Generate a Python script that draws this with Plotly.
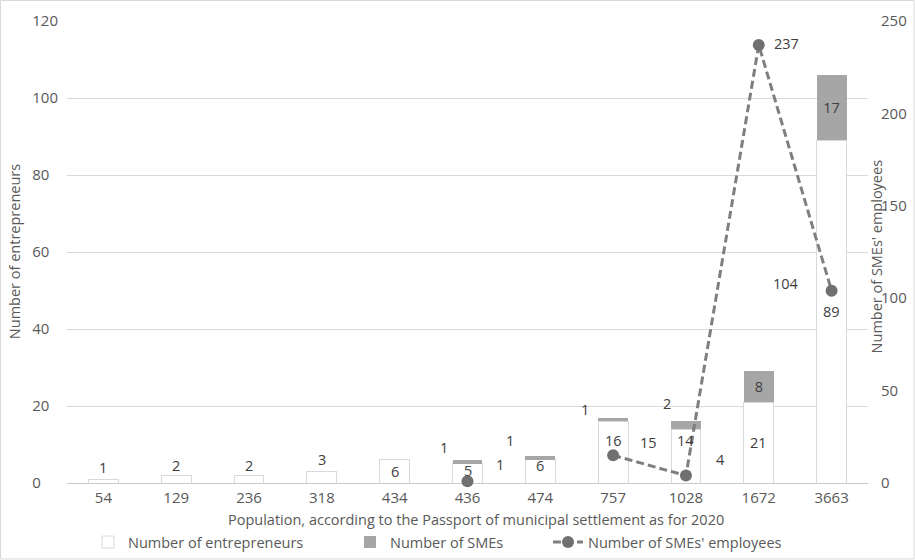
import plotly.graph_objects as go

categories = ["54", "129", "236", "318", "434", "436", "474", "757", "1028", "1672", "3663"]
entrepreneurs = [1, 2, 2, 3, 6, 5, 6, 16, 14, 21, 89]
smes = [0, 0, 0, 0, 0, 1, 1, 1, 2, 8, 17]
employees = [None, None, None, None, None, 1, None, 15, 4, 237, 104]

# label offsets (pixels) as placed in the original
ent_dy = [12, 10, 10, 12, 0, 3, 6, 12, 16, 0, 0]
emp_dx = [0, 0, 0, 0, 0, 32, 0, 35, 35, 28, -46]
emp_dy = [0, 0, 0, 0, 0, 17, 0, 13, 16, 2, 7]
sme_dx = [0, 0, 0, 0, 0, -24, -30, -28, -19, 0, 0]
sme_dy = [0, 0, 0, 0, 0, 12, 16, 8, 18, 0, 0]

FONT = "Open Sans"
TXT = "#595959"
LBL = "#404040"
FS = 14.5

sme_text = [str(v) if v >= 5 else "" for v in smes]

fig = go.Figure()
fig.add_trace(go.Bar(
    x=categories, y=entrepreneurs, name="Number of entrepreneurs", legend="legend",
    marker=dict(color="white", line=dict(color="#d9d9d9", width=1)),
    cliponaxis=False,
))
fig.add_trace(go.Bar(
    x=categories, y=smes, name="Number of SMEs", legend="legend2",
    marker=dict(color="#a6a6a6", line=dict(width=0)),
    text=sme_text, textposition="inside", textangle=0,
    insidetextanchor="middle", constraintext="none",
    textfont=dict(family=FONT, size=FS, color=LBL),
    cliponaxis=False,
))
fig.add_trace(go.Scatter(
    x=categories, y=employees, name="Number of SMEs' employees", yaxis="y2", legend="legend3",
    mode="lines+markers",
    line=dict(color="#7f7f7f", width=3, dash="8px,4px"),
    marker=dict(color="#707070", size=12),
    connectgaps=False, cliponaxis=False,
))

annotations = []
# entrepreneurs labels: centred in the bar, or above it for very short bars
for i, (e, dy) in enumerate(zip(entrepreneurs, ent_dy)):
    yv = e / 2 if e >= 5 else e
    annotations.append(dict(x=i, y=yv, xref="x", yref="y", text=str(e), showarrow=False,
                            yshift=dy, xanchor="center", yanchor="middle",
                            font=dict(family=FONT, size=FS, color=LBL)))
# small SME labels, placed up-left of the bar top (x given as category index)
for i, (e, s, dx, dy) in enumerate(zip(entrepreneurs, smes, sme_dx, sme_dy)):
    if 0 < s < 5:
        annotations.append(dict(x=i, y=e + s, xref="x", yref="y", text=str(s), showarrow=False,
                                xshift=dx, yshift=dy, xanchor="center", yanchor="middle",
                                font=dict(family=FONT, size=FS, color=LBL)))
# employees labels
for i, (v, dx, dy) in enumerate(zip(employees, emp_dx, emp_dy)):
    if v is not None:
        annotations.append(dict(x=i, y=v, xref="x", yref="y2", text=str(v), showarrow=False,
                                xshift=dx, yshift=dy, xanchor="center", yanchor="middle",
                                font=dict(family=FONT, size=FS, color=LBL)))
annotations += [
    dict(text="Number of SMEs' employees", xref="paper", yref="paper",
         x=1.011, y=0.49, textangle=-90, showarrow=False, xanchor="center", yanchor="middle",
         font=dict(family=FONT, size=FS, color=TXT)),
    dict(text="Number of entrepreneurs", xref="paper", yref="paper",
         x=-0.066, y=0.5, textangle=-90, showarrow=False, xanchor="center", yanchor="middle",
         font=dict(family=FONT, size=FS, color=TXT)),
    dict(text="Population, according to the Passport of municipal settlement as for 2020",
         xref="paper", yref="paper", x=0.511, y=-0.080, showarrow=False,
         xanchor="center", yanchor="middle",
         font=dict(family=FONT, size=FS, color=TXT)),
]

left_vals = list(range(0, 121, 20))
left_text = [str(v) + "\u2007" * (3 - len(str(v))) for v in left_vals]

leg_common = dict(orientation="h", xanchor="left", yanchor="middle", y=-0.128,
                  font=dict(family=FONT, size=FS, color=TXT), itemwidth=30,
                  bgcolor="rgba(0,0,0,0)")

fig.update_layout(
    width=915, height=560,
    margin=dict(l=67, r=47, t=21, b=77, autoexpand=False),
    paper_bgcolor="white", plot_bgcolor="white",
    barmode="stack", bargap=0.59,
    font=dict(family=FONT, size=FS, color=TXT),
    showlegend=True,
    legend=dict(x=(88 - 67) / 801, **leg_common),
    legend2=dict(x=(350 - 67) / 801, **leg_common),
    legend3=dict(x=(548 - 67) / 801, **leg_common),
    xaxis=dict(type="category", showgrid=False, ticks="", showline=False,
               range=[-0.5, len(categories) - 0.5], ticklabelstandoff=4,
               tickfont=dict(family=FONT, size=15, color=TXT)),
    yaxis=dict(range=[0, 120], tickvals=left_vals, ticktext=left_text,
               showgrid=True, gridcolor="#d9d9d9",
               zeroline=True, zerolinecolor="#c8c8c8", zerolinewidth=1,
               tickfont=dict(family=FONT, size=15, color=TXT), ticks="", ticklabelstandoff=8),
    yaxis2=dict(range=[0, 250], dtick=50, overlaying="y", side="right", showgrid=False,
                zeroline=False, ticks="", tickfont=dict(family=FONT, size=15, color=TXT),
                ticklabelstandoff=12),
    annotations=annotations,
    shapes=[dict(type="rect", xref="paper", yref="paper",
                 x0=-66.5 / 801, x1=1 + 46 / 801, y0=-76 / 462, y1=1 + 20.5 / 462,
                 line=dict(color="#d9d9d9", width=1))],
)

fig.write_html("out.html", config={"displayModeBar": False},
               post_script="document.body.style.margin='0';")
